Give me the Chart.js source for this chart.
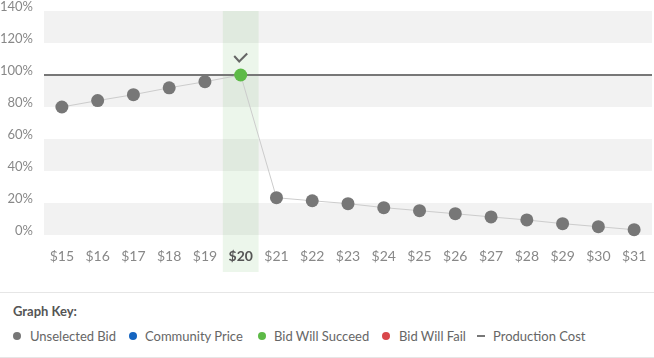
<!DOCTYPE html>
<html>
<head>
<meta charset="utf-8">
<script src="https://cdn.jsdelivr.net/npm/chart.js@4"></script>
<style>
  html, body { margin: 0; padding: 0; background: #fff; }
  body { width: 654px; height: 358px; overflow: hidden; font-family: Lato, "Noto Sans", sans-serif; }
  #wrap { position: relative; width: 654px; height: 280px; }
  #key { position: absolute; left: 0; top: 292px; width: 654px; height: 66px; border-top: 1px solid #e6e6e6; border-bottom: 1px solid #e6e6e6; box-sizing: border-box; }
  #keyTitle { position: absolute; left: 13px; top: 10px; font-size: 13px; font-weight: bold; color: #555; }
  #keyItems { position: absolute; left: 0; top: 34px; width: 654px; height: 18px; font-size: 13px; color: #666; white-space: nowrap; }
  .mark { position: absolute; top: 0; display: inline-flex; align-items: center; height: 18px; }
  .dot { width: 8px; height: 8px; border-radius: 50%; display: inline-block; }
  .dash { width: 8px; height: 2px; display: inline-block; background: #777; }
  .txt { position: absolute; top: 0; line-height: 18px; }
</style>
</head>
<body>
<div id="wrap"><canvas id="c" width="654" height="280"></canvas></div>
<div id="key">
  <div id="keyTitle">Graph Key:</div>
  <div id="keyItems"></div>
</div>
<script>
const categories = ['$15','$16','$17','$18','$19','$20','$21','$22','$23','$24','$25','$26','$27','$28','$29','$30','$31'];
const bidPercent = [80, 84, 87.7, 92, 95.8, 100, 23.3, 21.4, 19.6, 17.1, 15.2, 13.3, 11.3, 9.4, 7.1, 5.2, 3.3];
const productionCost = 100;
const selectedIndex = 5;
const yTicks = [0, 20, 40, 60, 80, 100, 120, 140];
const keyLabels = ['Unselected Bid', 'Community Price', 'Bid Will Succeed', 'Bid Will Fail', 'Production Cost'];
const keyColors = ['#777777', '#1565c0', '#5dba47', '#d9474b', '#777777'];

const GREY = '#777777';
const GREEN = '#5dba47';

// Legend (HTML) – marker and text positions
const keyMarkerX = [13, 129, 258, 382, 477];
const keyTextX = [30, 145, 274, 399, 493];
const keyItems = document.getElementById('keyItems');
keyLabels.forEach((lbl, i) => {
  const m = document.createElement('span');
  m.className = 'mark';
  m.style.left = keyMarkerX[i] + 'px';
  const mk = document.createElement('span');
  mk.className = i === 4 ? 'dash' : 'dot';
  mk.style.background = keyColors[i];
  m.appendChild(mk);
  keyItems.appendChild(m);
  const t = document.createElement('span');
  t.className = 'txt';
  t.style.left = keyTextX[i] + 'px';
  t.textContent = lbl;
  keyItems.appendChild(t);
});

const bandsPlugin = {
  id: 'bands',
  beforeDraw(chart) {
    const { ctx, chartArea, scales } = chart;
    const y = scales.y;
    ctx.save();
    for (let i = 0; i < yTicks.length - 1; i++) {
      if (i % 2 === 0) {
        const y0 = y.getPixelForValue(yTicks[i]);
        const y1 = y.getPixelForValue(yTicks[i + 1]);
        ctx.fillStyle = '#f2f2f2';
        ctx.fillRect(chartArea.left, y1, chartArea.right - chartArea.left, y0 - y1);
      }
    }
    const x = scales.x;
    const cx = x.getPixelForValue(selectedIndex);
    const w = (chartArea.right - chartArea.left) / categories.length;
    ctx.fillStyle = 'rgba(100,180,90,0.12)';
    ctx.fillRect(cx - w / 2, chartArea.top, w, 272 - chartArea.top);
    ctx.restore();
  },
  beforeDatasetsDraw(chart) {
    const { ctx, chartArea, scales } = chart;
    const py = scales.y.getPixelForValue(productionCost);
    ctx.save();
    ctx.strokeStyle = '#777777';
    ctx.lineWidth = 2;
    ctx.beginPath();
    ctx.moveTo(chartArea.left, py);
    ctx.lineTo(chartArea.right, py);
    ctx.stroke();
    ctx.restore();
  },
  afterDatasetsDraw(chart) {
    const { ctx, scales } = chart;
    const cx = scales.x.getPixelForValue(selectedIndex);
    const cy = scales.y.getPixelForValue(bidPercent[selectedIndex]);
    ctx.save();
    ctx.strokeStyle = '#666666';
    ctx.lineWidth = 2;
    ctx.beginPath();
    ctx.moveTo(cx - 6.5, cy - 19);
    ctx.lineTo(cx - 1.5, cy - 13.5);
    ctx.lineTo(cx + 6.5, cy - 21.5);
    ctx.stroke();
    ctx.restore();
  }
};

new Chart(document.getElementById('c'), {
  type: 'line',
  data: {
    labels: categories,
    datasets: [{
      data: bidPercent,
      borderColor: '#cccccc',
      borderWidth: 1,
      pointRadius: 6.5,
      pointHoverRadius: 6.5,
      pointBorderWidth: 0,
      pointBackgroundColor: bidPercent.map((v, i) => i === selectedIndex ? GREEN : GREY),
      tension: 0,
      clip: false
    }]
  },
  options: {
    responsive: false,
    animation: false,
    events: [],
    layout: { autoPadding: false, padding: { top: 11, right: 2, left: 0, bottom: 0 } },
    plugins: { legend: { display: false }, tooltip: { enabled: false } },
    scales: {
      x: {
        offset: true,
        grid: { display: false, drawTicks: true, tickLength: 13 },
        border: { display: false },
        afterFit(scale) { scale.height = 45; scale.paddingLeft = 0; scale.paddingRight = 0; },
        ticks: {
          padding: 0,
          maxRotation: 0,
          autoSkip: false,
          color: (ctx) => ctx.index === selectedIndex ? '#555555' : '#888888',
          font: (ctx) => ({ family: 'Lato, "Noto Sans", sans-serif', size: 14, weight: ctx.index === selectedIndex ? 'bold' : 'normal' })
        }
      },
      y: {
        min: 0,
        max: 140,
        grid: { display: false, drawTicks: false },
        border: { display: false },
        afterFit(scale) { scale.width = 44; scale.paddingTop = 0; scale.paddingBottom = 0; },
        ticks: {
          stepSize: 20,
          padding: 11,
          labelOffset: -4,
          color: '#888888',
          font: { family: 'Lato, "Noto Sans", sans-serif', size: 13 },
          callback: (v) => v + '%'
        }
      }
    }
  },
  plugins: [bandsPlugin]
});
</script>
</body>
</html>
